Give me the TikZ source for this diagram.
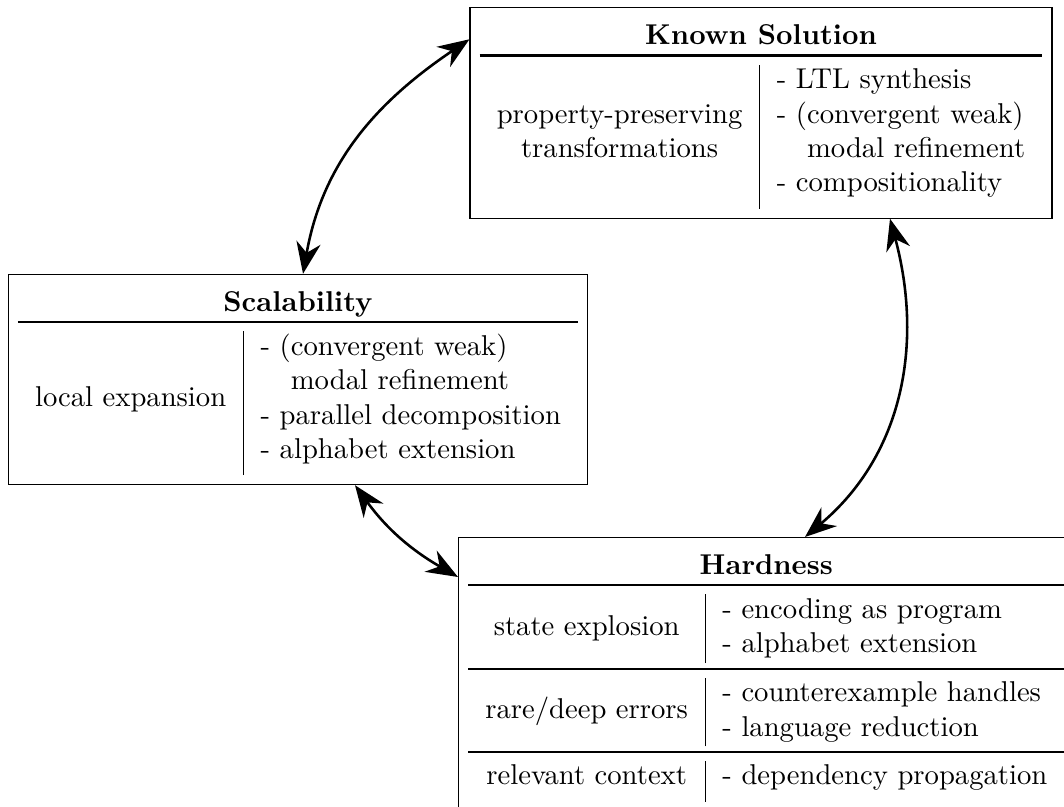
\documentclass[tikz,border=0pt]{standalone}
\usepackage{booktabs}
\usetikzlibrary{arrows.meta,calc}

\tikzset{
  tablebox/.style={draw, line width=0.4pt, inner sep=0.3333em, fill=white},
  tip/.tip={Stealth[length=11pt,width=8.5pt,inset=3.6pt]},
  link/.style={line width=0.9pt, tip-tip}
}
% heading row of each table, with its heavy rule below
\newcommand{\tablehead}[1]{\multicolumn{2}{c}{\rule{0pt}{9.6pt}\textbf{#1}}\\[-2pt] \midrule[\heavyrulewidth]}
% a left-column entry centred on two rows
\newcommand{\twolines}[1]{\raisebox{-6pt}[0pt][0pt]{#1}}

\begin{document}
\begin{tikzpicture}[x=0.349pt,y=0.349pt]
\useasboundingbox (0,0) rectangle (1064,-807);

% top right: known solutions
\node[tablebox] (KS) at (761,-113) {%
\begin{tabular}{c|l}
\tablehead{Known Solution}
 & - LTL synthesis\\
property-preserving & - (convergent weak)\\
transformations & \hphantom{- (}modal refinement\\
 & - compositionality\\[2.2pt]
\end{tabular}};

% left: scalability
\node[tablebox] (SC) at (298,-379.5) {%
\begin{tabular}{c|l}
\tablehead{Scalability}
 & - (convergent weak)\\
\twolines{local expansion} & \hphantom{- (}modal refinement\\
 & - parallel decomposition\\
 & - alphabet extension\\[2.2pt]
\end{tabular}};

% bottom right: hardness
\node[tablebox, anchor=north west] (HD) at (458,-537) {%
\begin{tabular}{c|l}
\tablehead{Hardness}
\twolines{state explosion} & - encoding as program\\
 & - alphabet extension\\ \midrule
\twolines{rare/deep errors} & - counterexample handles\\
 & - language reduction\\ \midrule
relevant context & - dependency propagation\\[2.2pt]
\end{tabular}};

% connections between the three aspects
\draw[link] ($(SC.north)+(5,0)$) to[out=80, in=214] ($(KS.north west)+(0,-32)$);
\draw[link] ($(SC.south)+(57,0)$) to[out=-54, in=150] ($(HD.north west)+(0,-40)$);
\draw[link] ($(KS.south)+(129,0)$) to[out=-75, in=40] ($(HD.north west)+(347,0)$);
\end{tikzpicture}
\end{document}
